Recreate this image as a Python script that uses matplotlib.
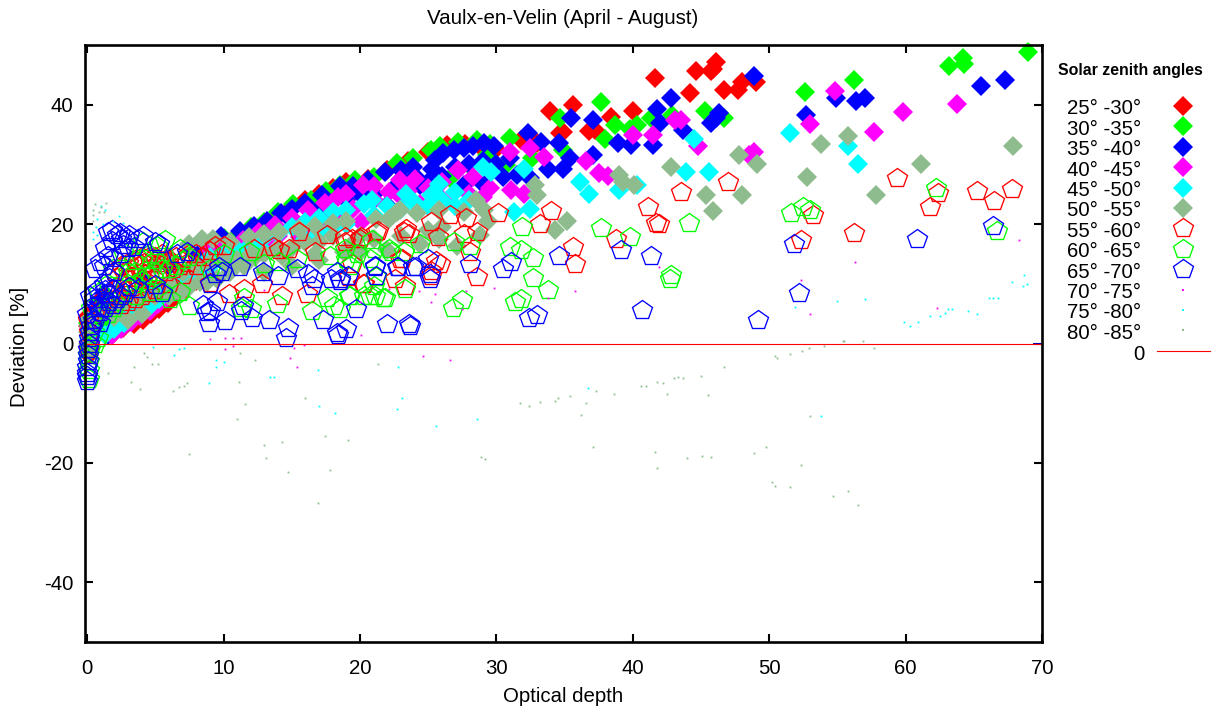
import matplotlib
matplotlib.use('Agg')
import matplotlib.pyplot as plt
from matplotlib.lines import Line2D
import numpy as np

plt.rcParams['font.family'] = ['Liberation Sans', 'DejaVu Sans']
plt.rcParams['axes.unicode_minus'] = False

# filled diamonds, (optical depth, deviation)
sza_25_30 = [(0.05,4.6),(0.05,3),(0.1,1.5),(0.1,-0.5),(0.15,-2),(0.5,2),(1,3),(1.8,1.5),(2.6,2.6),(3.4,3.2),(4.1,4),(4.7,5),(5.3,5.8),(5.9,6.8),
             (6.5,8),(7.2,9.2),(8,10.4),(9,16),(10,17),(11,18),(12,19),(13,20),(14,21.4),(15,22.8),(16,24),(17,25),(18,26),(19,27),
             (20.6,27.6),(22,29),(23.5,30.5),(25,32),(26.4,33.3),(27.7,33.5),(28.8,33),(30,32.6),(31.8,34.1),(33,33.6),(33.9,39),(34.7,35.2),
             (34.9,35.4),(35.6,40),(36.8,35.6),(37.2,35.8),(38.4,37.9),(40,39),(41.6,44.5),(44.2,42),(44.6,45.7),(45.7,45.7),(46.1,47.2),
             (45.9,46),(46.7,42.5),(47.7,42.5),(48,43.8),(49,43.8)]
sza_30_35 = [(0.05,3.5),(0.1,2),(0.1,0.5),(0.15,-1),(1.2,2.5),(2,3.5),(2.8,4.8),(3.6,6),(4.4,7.2),(5.2,8.5),(6,9.8),(7,11.2),(8,12.5),
             (9,16.5),(10,17.6),(11.2,18.5),(12,19.5),(13,20.3),(14,22),(15.1,23.3),(16.4,24.1),(17.5,25.5),(18.5,26.5),(19.6,27.4),(21,27.9),
             (22.7,30.2),(23.9,31),(25.2,32.4),(25.9,33),(26.6,27.7),(27.2,33.8),(28,29.9),(28.6,34.1),(29.3,31.6),(29.5,33.5),(30.7,29.9),
             (31,34.4),(32.6,31),(34.7,37.8),(34.9,32.4),(37.7,40.5),(38,34.2),(38.7,36.6),(39.8,36),(40.3,36.6),(41.3,37.8),(42.9,38.3),
             (45.3,38.9),(46.7,37.8),(52.6,42.2),(56.2,44.2),(63.2,46.5),(64.2,47.9),(64.3,46.9),(69,48.9)]
sza_35_40 = [(0.3,1),(0.4,3),(0.5,5),(0.8,7),(1.2,8.5),(1.5,1.5),(2.2,2.5),(2.9,3.7),(3.6,4.8),(4.3,6),(5,7.2),(5.7,8.4),(6.4,9.8),(7,10.8),
             (7.7,11.9),(8.5,13),(4,11),(6,13),(8,15),(9,14.5),(9.8,18),(10,15.5),(11,16.5),(11.2,18.8),(12.2,19.6),(13,18.5),(13.2,20.6),(14.2,21.8),
             (15,20.5),(15,22.6),(16,23.6),(17,22.5),(17.2,24.8),(18.5,26.3),(19,24),(19.5,26.3),(20,25),(20.6,27.4),(21,25),(21.8,28.8),(22,23.2),
             (22.5,26),(23,27.5),(23,29),(23.9,29.6),(24,28),(24.4,26.5),(25,27),(25.3,29.3),(25.5,30.7),(26,28),(26.1,31.9),(26.9,32.4),(27,29.5),
             (27.6,26.5),(27.6,32.7),(28,30),(28.3,33),(29,30.5),(29.1,26.5),(29.1,33.6),(29.8,33),(30,30),(30.5,27.9),(31,31),(31.5,28.2),(32.3,35.2),(32.5,27.7),
             (33.3,33.8),(33.8,29.3),(34.6,33.6),(34.9,29.3),(35.4,31),(35.5,37.8),(37.1,31.6),(37.1,37.5),(38.9,33.6),(39.9,33.3),(41.5,33.3),
             (41.8,39.2),(42,36.9),(42.8,41.1),(43.7,35.8),(45.7,36.9),(46.1,37.8),(46.3,38.6),(48.9,44.8),(52.7,38.2),(54.9,41.1),(56.4,40.6),
             (57,41.1),(65.5,43.1),(67.3,44.1)]
sza_40_45 = [(0.1,2.5),(0.2,0.5),(1.8,1.5),(2.5,2.5),(3.2,3.6),(3.9,4.6),(4.6,5.5),(5.2,6.6),(5.8,7.6),(6.4,8.6),(7,10),(7,11.5),(8,11.5),(8,12.5),(9,13),(9,15.6),(10,14),(10.2,16.4),
             (11,15),(11.4,17.4),(11.9,15.3),(12,16),(12.6,18.6),(13,17),(13.8,19.8),(14,18),(15,21),(15.6,17.9),(16,19.5),(16.2,22.4),(17,20.5),(17.4,23.6),(18,21.5),(18.4,24.5),(19,25.1),
             (19.5,22.5),(20.1,20.4),(20.2,26.5),(21,24),(21,26.3),(22.1,25.4),(22.9,27.4),(23,24.5),(23.5,25.5),(24,27.5),(24.4,23.4),(25,26),(26,27),(26.1,24),(27.2,29),(28,25),(28.3,27.9),
             (29,24.6),(29.5,26),(31,32),(31.1,25.7),(32,25.1),(32.5,32.7),(33.5,31.3),(36.6,30.5),(37.5,28.5),(38.2,28),(40,35),(41.5,34.9),(43.1,37.5),(43.5,37.4),(44.8,33),(48.5,31.6),(48.9,32),(53,36.8),
             (54.8,42.3),(57.7,35.4),(59.8,38.7),(63.8,40.2)]
sza_45_50 = [(0.1,3),(0.1,1),(1.3,1.5),(2,2.5),(2.7,3.5),(3,6),(3.3,4.8),(4,5.5),(4,7.5),(4.7,6.5),(5,9),(5.3,7.5),(6,8.5),(6,10),(7,9.8),(7,11),(8,11),(8,13),(9,12),(9,13),(9,14.5),(10,13.5),(10,15),(11,14.2),(11,15.8),
             (12,15),(12,16.6),(13,15.5),(13,17.6),(14,16),(14,18.4),(15,19.5),(16,17.5),(16,20.4),(17,18.5),(17,21),(18,19.5),(18,22),(19,20),(19,22.3),(20.3,23.3),(20.9,24),(21,21.5),(22,23),(23,22.5),(23.4,25.1),(24,23.5),
             (25,23),(25.2,24.8),(25.8,26.8),(26,24),(27,23),(27,25.4),(28,24),(29,29.6),(29.6,28.8),(31.3,22),(32,29.3),(32.5,22.6),(36.1,27.1),(36.8,25),(39,25.7),(40.3,26.5),(43.9,28.8),(44.5,34.3),
             (45.6,28.8),(51.5,35.2),(55.8,33),(56.5,30.1)]
sza_50_55 = [(0.05,4),(0.05,2),(0.05,0),(0.05,-1.5),(1,5),(2,4.5),(2,6),(3,4),(3,7),(4,5),(4,7.5),(5,8),(6,8),(6,10),(6.8,8.5),(7,12),(7.5,9.4),(8,13),(8.3,10.3),(8.8,10.3),(9,13.5),(9.5,10.8),(10,14),(10.5,12),
             (11,14),(11.5,13),(5,13),(6,14.5),(7.5,16.7),(8.4,17.5),(9.2,17.5),(10.5,17),(11.9,17.9),(12,15),(12.3,14.5),(13,12),(13,15),(13,18.3),(14,16),(14.1,18.7),(14.3,14.7),(15,13),(15,16),(15.5,19.1),
             (16,17),(16.7,19.6),(16.7,15),(17,14),(17,17),(18,18),(18,20.2),(18.8,15.3),(19,20.6),(19.3,16.4),(20,15.3),(20,18),(21,17.5),(21.2,20.9),(22,15.6),(22.1,20.9),(22.7,22),(22.9,22.3),(23,18),
             (24.2,21.8),(24.4,16.7),(25,19),(25.8,22.3),(25.8,17.5),(26,19.5),(27.1,16.4),(27.6,22),(28.5,24),(28.8,18.1),(29.1,22.3),(29.4,20.6),(32.8,26.5),(33,24.8),
             (34.3,19),(35.2,20.5),(39,28.2),(39.3,27.1),(40.1,26.6),(42.8,29.5),(45.4,24.9),(45.9,22.2),(47.8,31.6),(48,24.9),(49.1,30.1),(52.8,27.9),
             (53.8,33.5),(55.8,34.7),(57.8,24.9),(61.1,30.1),(67.9,33)]

# open pentagons
sza_55_60 = [(0.05,4),(0.3,3),(0.1,2),(0.1,0),(0.1,-1),(0.5,5),(1,6),(1.2,7.5),(1.5,7),(1.7,8.5),(2,9),(2,12),(2.2,11),(2.3,8),(2.5,6.5),(2.5,10),(2.5,13),(2.7,12),(2.8,9),(3,7),(3,11),(3,13.5),(3.2,12.5),(3.3,9.5),(3.5,7.5),(3.5,11.5),(3.5,14),(3.7,13),(3.8,10),
             (4,8),(4,12),(4,14.5),(4.2,13.5),(4.3,10.5),(4.5,8.5),(4.5,14.5),(4.7,13.5),(4.8,11),(5,9),(5,14.5),(5.2,13.5),(5.3,11.5),(5.5,15),(5.7,14),(5.8,12),(6,10),(6,14),(6.3,12.5),(6.5,14.5),(6.8,13),(7,11.5),(7,14),(7.3,13.5),(7.5,15),(8,13),(8,15),(8.5,14.5),(9,15.5),(9,10.2),(9.4,16.4),(10,16.4),
             (10.4,8.3),(11.5,9.1),(12.2,15.9),(12.8,9.9),(13.6,16.2),(14.1,15.6),(14.3,8),(14.8,15.9),(15.5,18.7),(16.1,8.3),(16.7,15.3),(17.6,18.1),
             (18.9,17.8),(18.9,17),(19.2,11.1),(19.4,17.5),(19.4,13.3),(20,17.5),(20.1,17.8),(20.2,9.9),(20.3,9.9),(21.2,18.7),(21.3,18.9),(22.6,10.8),
             (22.9,14.2),(23.1,14.2),(23.2,18.7),(23.3,9.7),(23.4,19.2),(23.6,18.4),(25.2,11.3),(25.2,12.2),(25.2,20.4),(25.6,13.9),(25.7,17.9),(25.9,13.3),
             (26.6,21.6),(27.6,18.4),(27.8,21),(28.1,15.3),(28.6,18.7),(28.6,11.2),(30.1,21.8),(33.2,20.1),(34,22.2),(35.6,16.1),(35.8,13.3),(38.8,17.5),
             (41.1,22.8),(41.7,20.2),(41.9,20),(43.5,25.4),(47,27),(52.3,17.4),(53.2,21.5),(56.2,18.5),(59.4,27.8),(61.8,22.9),(62.4,25.2),(65.2,25.6),
             (66.5,23.8),(67.8,25.9)]
sza_60_65 = [(0.05,-2),(0.1,-3),(0.1,-4.5),(0.1,-6),(0.2,-1),(0.3,6),(0.4,4),(0.5,2),(0.6,0),(0.8,1),(0.9,8.6),(1,5),(1.5,5),(1.5,10),(1.9,12.5),(2,6),(2,7),(2.5,8),(2.6,15.3),(3,10),(3,12),(3.4,13.9),(3.5,10),(3.5,12),(3.6,8),(4,10.5),(4,14),(4.1,17),(4.5,8.6),(4.5,11.5),(4.5,15),
             (5,12),(5,14),(5.1,16.4),(5.5,8.8),(5.5,12.5),(5.7,17.3),(6,12.5),(6.1,7.4),(6.5,13),(6.8,15.9),(6.8,8.6),(7,14),(7.5,6.3),(7.5,14.5),(9,12.5),(10,15),(11.3,6),(11.5,7.7),(11.9,15.3),(12,5.7),(13,13.3),
             (13.9,6.6),(14.1,13.6),(15.4,14.2),(16.5,5.4),(17.6,7.7),(17.8,14.7),(18.1,6.3),(18.5,5.7),(18.9,15.9),(19,14.2),(19.2,8),(19.3,13),(19.3,8),
             (19.8,15),(20.3,8),(20.7,8),(20.7,14.2),(20.9,17.3),(21,15.9),(21,9.7),(21.1,8),(21.2,11.1),(21.7,7.7),(21.8,7.7),(22.1,15.9),(22.3,15.3),
             (23.2,15.3),(23.3,9.1),(24.4,16.7),(26.8,5.9),(26.9,17),(27.5,7.3),(28.1,16.4),(31,16.2),(31.4,7),(31.8,15.6),(31.8,7.4),(31.9,19.5),(32.7,14.3),
             (32.7,10.9),(33.8,9),(37.7,19.3),(39.8,17.8),(42.7,10.8),(42.8,11.5),(44.1,20.2),(51.6,21.8),(52.5,22.9),(53,22.3),(62.2,26),(66.7,18.9)]
sza_65_70 = [(0,-6.2),(0,-5.5),(0,-5),(0,-4),(0.05,-3),(0.05,-2),(0.05,-1),(0.1,0),(0.1,1),(0.2,2),(0.3,3),(0.45,4),(0.6,4),(0,5),(0.95,3.5),(0.95,5.2),(0.45,6.3),(0.8,6),(0.95,7.4),(0.2,8),(0.5,7.5),(0.7,9),
             (1.2,10),(1.3,6),(1.3,9),(1.55,8.3),(1.6,7),(1.6,11),(1.9,6.5),(1.9,9.1),(2,12),(2.2,7.4),(2.5,8),(2.5,15),(2.8,8.4),(3,16),(3.1,9.4),(3.75,9.1),(0.6,12.5),(1.2,13),(0.95,13.6),(1.3,16),(1.9,14.4),(1.55,14.7),(1.8,17.2),(1.8,19),(2.4,18.5),(2.5,17.5),(2.6,16.5),(2.2,18.1),(1.55,18.7),
             (3,17.5),(3.1,18.1),(3.4,16.2),(3.7,17.5),(4.1,18),(5,17),(5,9.8),(5.3,16.7),(5.5,8.5),(6.6,15),(7.3,15.3),(8.5,6.5),(8.8,5.2),(8.9,3.5),(9,5.5),(9,10),(9.4,11.6),(9.5,7),(9.7,12.8),(9.9,12),(10.1,3.7),(11.2,12.8),(11.3,5.4),(11.4,6.2),
             (12.1,4.3),(12.9,12),(13.3,3.9),(14,11.3),(14.6,1),(14.7,2.6),(15.4,12.5),(16.2,11.6),(16.5,9.7),(16.6,10.8),(17.3,3.9),(17.9,10.8),(18.3,11.9),(18.3,1.8),
             (18.4,1.5),(18.5,10.8),(18.5,10.5),(19,2.4),(19.1,11.3),(19.7,5.7),(21.1,12.8),(21.2,11.3),(21.1,13),(22,3.2),(22.7,12.8),(22.8,12.8),(23.6,3.2),(23.7,2.9),
             (23.9,12.8),(24.1,12.8),(25,14.2),(25.1,10.8),(25.1,11.6),(28.1,13.3),(30.5,12.5),(31.1,13.6),(32.4,4.3),(33,4.8),(34.6,14.7),(39.1,15.6),(40.7,5.6),
             (41.3,14.7),(49.2,3.9),(51.8,16.7),(52.2,8.4),(60.8,17.5),(66.4,19.7)]

# tiny dots
sza_70_75 = [(9,0.7),(10.1,-1),(10.1,1),(10.7,-0.4),(10.7,1),(11.3,1),(13,8.9),(14.9,-2.5),(15.2,-0.8),(15.4,-3.9),(15.9,-0.2),(20,6.9),(20.1,1.5),(22.1,9.1),
             (24.3,8.8),(24.6,-2.1),(25.2,7),(25.5,8.3),(26.6,-2.7),(27.5,5.7),(27.8,8.8),(29.8,9.3),(33.8,7.6),(35.8,8.8),(41.9,12.8),(52.3,10.7),(53,4.9),
             (56.3,13.7),(62.3,5.9),(68.3,17.4)]
sza_75_80 = [(0.4,17.5),(0.45,18.7),(0.65,19.5),(0.75,18.1),(0.75,20.9),(1.05,23),(1.15,20),(1.3,22.3),(1.9,20.6),(2.3,21.4),(2.6,20.2),(4.85,-0.6),(6.4,-2),(6.7,-1),(7.1,-0.8),
             (8.9,-6.7),(9.45,-2.7),(9.45,-4),(10,-3.1),(13.4,-5.6),(13.7,-5.6),(16.9,-4.4),(17,-10.4),(18.2,-11.7),(22.7,-11),(22.8,-3.9),(23.1,-9.2),(25.6,-13.8),
             (28.6,-12.6),(36.7,-7.5),(51.9,6.1),(53.8,-12.1),(55,7.2),(57,7.4),(59.9,3.6),(60.3,3),(60.9,3.6),(61.8,4.6),(62.5,4.6),(62.9,5.1),(63.1,5.7),(63.4,5.7),
             (64.6,5.5),(65.2,4.9),(66.1,7.6),(66.4,7.6),(66.8,7.6),(67.8,10.3),(68.6,9.7),(68.7,11.5),(68.9,9.9)]
sza_80_85 = [(0.4,21.5),(0.45,22.3),(0.45,20.6),(0.6,23.3),(0.85,22),(1,22.9),(1.2,22),(1.4,23.6),(1.5,-5),(3.2,-6.4),(3.4,-4),(3.9,-7.7),(4.2,-1.6),(4.4,-2.3),(4.75,-3.5),
             (5.2,-3.5),(6.3,-7.9),(6.7,-7.3),(7.1,-7.1),(7.35,-6.6),(7.5,-18.5),(11,-12.6),(11.1,-6.5),(11.2,-1.6),(11.6,-10.2),(12.3,-2.7),(13,-17),(13.1,-19.2),
             (14.3,-16.5),(14.7,-21.5),(16,-9.2),(16.9,-26.8),(17.4,-15.5),(17.8,-21.2),(19.1,-16.1),(21.3,-3.5),(28.9,-19),(29.2,-19.3),(31.7,-10),(32.4,-10.4),
             (33.2,-9.8),(34.3,-9.6),(34.5,-9.1),(35.4,-8.8),(36.2,-11.9),(36.6,-10),(37.1,-17.3),(37.3,-7.9),(38.6,-8.4),(40.6,-7.1),(41,-7.1),(41.6,-18.2),(41.8,-6.4),
             (41.8,-20.9),(42.2,-6.6),(42.5,-8.4),(43,-5.8),(43.3,-5.6),(43.7,-5.8),(44,-19.2),(45,-5.4),(45.1,-18.8),(45.5,-8.7),(45.7,-19),(46.7,-4),(48.9,-18.4),
             (49.8,-17.4),(50.2,-23.2),(50.4,-2.1),(50.4,-23.9),(50.6,-2.5),(51.5,-1.8),(51.5,-24.1),(52.3,-20.3),(52.4,-1.3),(52.9,-0.8),(53,-12.1),(54,-0.4),
             (54.7,-25.6),(55.4,0.5),(55.5,0.5),(55.8,-24.7),(56.5,-27),(56.9,0.5),(57.7,-0.8)]

zero_x = [0, 70]
zero_y = [0, 0]
blue_end_x = [69.4, 70]
blue_end_y = [0, 0]

labels = ['25° -30°', '30° -35°', '35° -40°', '40° -45°', '45° -50°', '50° -55°',
          '55° -60°', '60° -65°', '65° -70°', '70° -75°', '75° -80°', '80° -85°']
sg = '#8FBC8F'
series = [sza_25_30, sza_30_35, sza_35_40, sza_40_45, sza_45_50, sza_50_55,
          sza_55_60, sza_60_65, sza_65_70, sza_70_75, sza_75_80, sza_80_85]
colors = ['#FF0000', '#00FF00', '#0000FF', '#FF00FF', '#00FFFF', sg,
          '#FF0000', '#00FF00', '#0000FF', '#FF00FF', '#00FFFF', sg]
kinds = ['D'] * 6 + ['p'] * 3 + ['s'] * 3


def style(kind, c):
    if kind == 'D':
        return dict(marker='D', ms=10, mfc=c, mec=c, mew=0)
    if kind == 'p':
        return dict(marker='p', ms=14.4, mfc='none', mec=c, mew=0.95)
    return dict(marker='s', ms=1.3, mfc=c, mec=c, mew=0)


W, H = 1214, 709
fig = plt.figure(figsize=(W / 100, H / 100), dpi=100)
ax = fig.add_axes([84.7 / W, 1 - 642 / H, (1042 - 84.7) / W, (642 - 45) / H])

for pts, c, k in zip(series, colors, kinds):
    xy = np.array(pts)
    ax.plot(xy[:, 0], xy[:, 1], ls='none', clip_on=False, **style(k, c))
ax.plot(blue_end_x, blue_end_y, color='#0000C0', lw=1.4)
ax.plot(zero_x, zero_y, color='#FF0000', lw=0.8)

ax.set_xlim(-0.18, 70)
ax.set_ylim(-50, 50)
ax.set_xticks(range(0, 71, 10))
ax.set_yticks(range(-40, 41, 20))
ax.tick_params(direction='in', length=5.8, width=1.5, top=True, right=True, labelsize=14.7)
ax.tick_params(axis='x', pad=12)
ax.tick_params(axis='y', pad=8)
for s in ax.spines.values():
    s.set_linewidth(1.9)
    s.set_zorder(10)

fig.text(563 / W, 1 - 18 / H, 'Vaulx-en-Velin (April - August)', ha='center', va='center', fontsize=14.8)
fig.text(563 / W, 1 - 696 / H, 'Optical depth', ha='center', va='center', fontsize=14.7)
fig.text(20 / W, 1 - 347 / H, 'Deviation [%]', ha='center', va='center', rotation=90, fontsize=14.7)

# legend on the right, laid out by hand like the gnuplot key
fig.text(1058 / W, 1 - 70 / H, 'Solar zenith angles', ha='left', va='center', fontsize=11.4, fontweight='bold')
for i, (lab, c, k) in enumerate(zip(labels, colors, kinds)):
    row = 106 + i * 20.4
    fig.text(1141 / W, 1 - (row + 3) / H, lab, ha='right', va='center', fontsize=14.7)
    st = style(k, c)
    if k == 's':
        st['ms'] = 1.6
    fig.add_artist(Line2D([1183 / W], [1 - row / H], ls='none', **st))
fig.text(1145 / W, 1 - 354 / H, '0', ha='right', va='center', fontsize=14.7)
fig.add_artist(Line2D([1157 / W, 1210 / W], [1 - 350.5 / H] * 2, color='#FF0000', lw=0.8))

fig.savefig('out.png', dpi=100)
